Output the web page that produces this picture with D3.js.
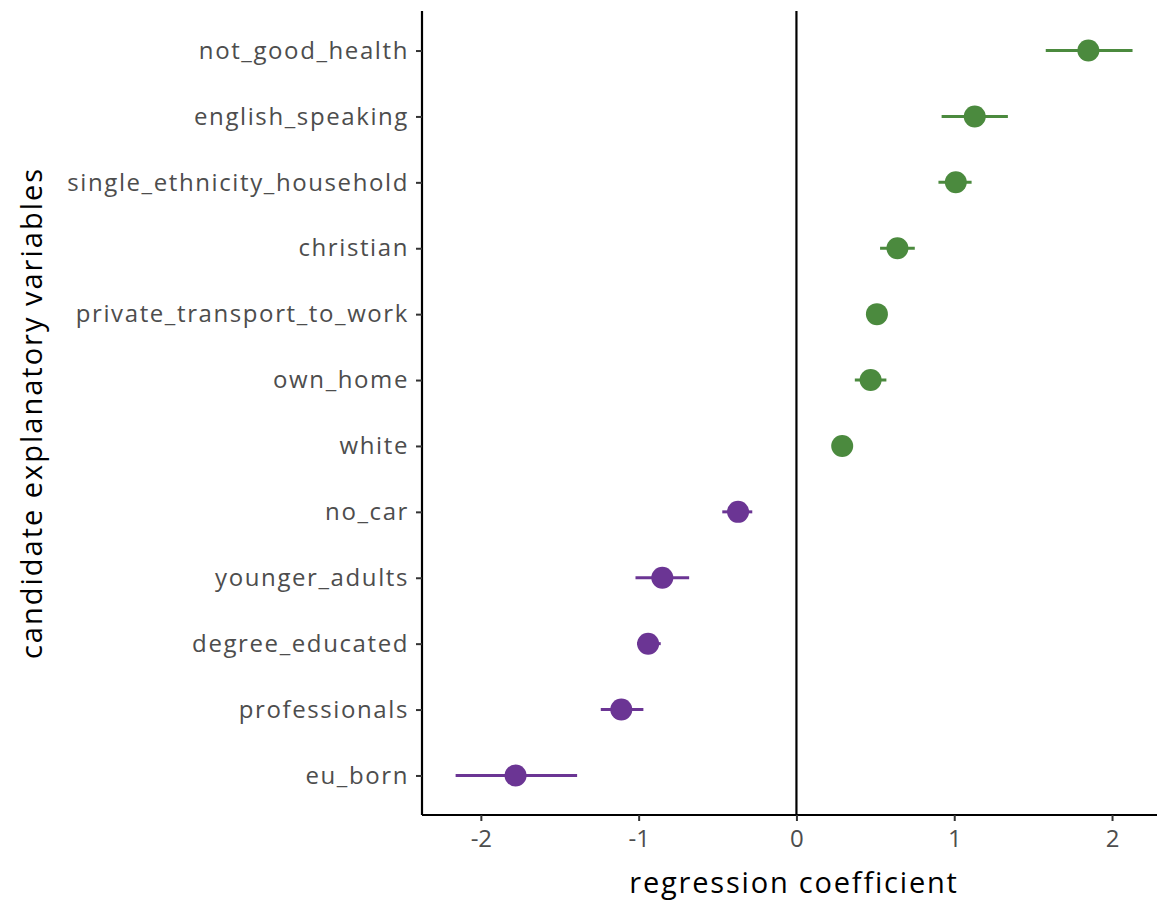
<!DOCTYPE html>
<html>
<head>
<meta charset="utf-8">
<script src="https://cdn.jsdelivr.net/npm/d3@7"></script>
<style>
body { margin: 0; background: #fff; }
text { font-family: "Open Sans", Lato, sans-serif; }
</style>
</head>
<body>
<svg></svg>
<script>
var width = 1157, height = 901;

var variables = ["not_good_health", "english_speaking", "single_ethnicity_household",
	"christian", "private_transport_to_work", "own_home", "white",
	"no_car", "younger_adults", "degree_educated", "professionals", "eu_born"];
var estimate = [1.85, 1.13, 1.01, 0.64, 0.51, 0.47, 0.29, -0.37, -0.85, -0.94, -1.11, -1.78];
var lower = [1.58, 0.92, 0.90, 0.53, 0.46, 0.37, 0.25, -0.47, -1.02, -1.01, -1.24, -2.16];
var upper = [2.13, 1.34, 1.11, 0.75, 0.56, 0.57, 0.32, -0.28, -0.68, -0.86, -0.97, -1.39];
var xTicks = [-2, -1, 0, 1, 2];

var margin = {top: 11, right: 0, bottom: 86, left: 422};

var svg = d3.select("svg")
	.attr("width", width)
	.attr("height", height);

var x = d3.scaleLinear()
	.domain([-2.373, 2.285])
	.range([margin.left, width - margin.right]);

var y = d3.scalePoint()
	.domain(variables)
	.range([margin.top, height - margin.bottom])
	.padding(0.6);

var color = function(v) { return v >= 0 ? "#4b8a3e" : "#6b3594"; };

var rows = variables.map(function(v, i) {
	return {name: v, est: estimate[i], lo: lower[i], hi: upper[i]};
});

// zero line
svg.append("line")
	.attr("x1", x(0)).attr("x2", x(0))
	.attr("y1", margin.top).attr("y2", height - margin.bottom)
	.attr("stroke", "#000")
	.attr("stroke-width", 2.2);

// axes
var xAxis = svg.append("g")
	.attr("transform", "translate(0," + (height - margin.bottom) + ")")
	.call(d3.axisBottom(x).tickValues(xTicks).tickSize(6).tickPadding(9)
		.tickFormat(function(d) { return String(d); }));

var yAxis = svg.append("g")
	.attr("transform", "translate(" + margin.left + ",0)")
	.call(d3.axisLeft(y).tickSize(6).tickPadding(7));

[xAxis, yAxis].forEach(function(a) {
	a.select(".domain").attr("stroke", "#000").attr("stroke-width", 2.2);
	a.selectAll(".tick line").attr("stroke", "#333").attr("stroke-width", 2);
	a.selectAll(".tick text")
		.attr("fill", "#4d4d4d")
		.style("font-size", "24px")
		.style("letter-spacing", "1.6px");
});
xAxis.selectAll(".tick text").style("letter-spacing", "0px");
xAxis.select(".domain").attr("d", "M" + margin.left + ",0H" + width);
yAxis.select(".domain").attr("d", "M0," + margin.top + "V" + (height - margin.bottom));

// error bars
svg.append("g")
	.selectAll("line")
	.data(rows)
	.enter()
	.append("line")
	.attr("x1", function(d) { return x(d.lo); })
	.attr("x2", function(d) { return x(d.hi); })
	.attr("y1", function(d) { return y(d.name); })
	.attr("y2", function(d) { return y(d.name); })
	.attr("stroke", function(d) { return color(d.est); })
	.attr("stroke-width", 3);

// points
svg.append("g")
	.selectAll("circle")
	.data(rows)
	.enter()
	.append("circle")
	.attr("cx", function(d) { return x(d.est); })
	.attr("cy", function(d) { return y(d.name); })
	.attr("r", 11)
	.attr("fill", function(d) { return color(d.est); });

// axis titles
svg.append("text")
	.attr("x", 794)
	.attr("y", 893)
	.attr("text-anchor", "middle")
	.attr("fill", "#000")
	.style("font-size", "29px")
	.style("letter-spacing", "1.8px")
	.text("regression coefficient");

svg.append("text")
	.attr("transform", "translate(42," + ((margin.top + height - margin.bottom) / 2) + ") rotate(-90)")
	.attr("text-anchor", "middle")
	.attr("fill", "#000")
	.style("font-size", "29px")
	.style("letter-spacing", "2px")
	.text("candidate explanatory variables");
</script>
</body>
</html>
